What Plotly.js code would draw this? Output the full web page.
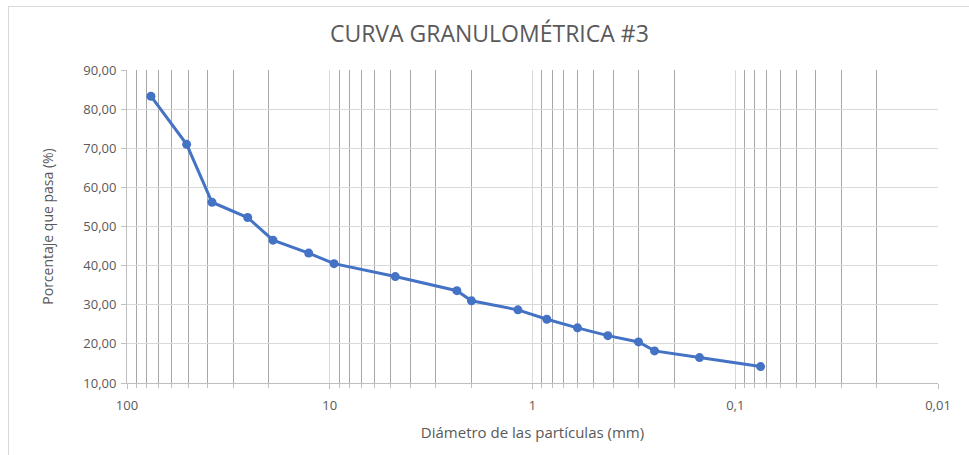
<!DOCTYPE html>
<html>
<head>
<meta charset="utf-8">
<script src="https://cdn.plot.ly/plotly-3.0.1.min.js"></script>
<style>
  html, body { margin: 0; padding: 0; background: #ffffff; }
  #frame { position: absolute; left: 0; top: 0; width: 969px; height: 455px; }
  #border { position: absolute; left: 8px; top: 6px; width: 961px; height: 449px;
            border-top: 1px solid #d9d9d9; border-left: 1px solid #d9d9d9; pointer-events: none; }
  #chart { position: absolute; left: 0; top: 0; width: 969px; height: 455px; }
</style>
</head>
<body>
<div id="frame">
  <div id="chart"></div>
  <div id="border"></div>
</div>
<script>
// Sieve opening (mm) and percent passing
const diametros = [76.2, 50.8, 38.1, 25.4, 19.05, 12.7, 9.525, 4.75, 2.36, 2.0, 1.18, 0.85, 0.6, 0.425, 0.3, 0.25, 0.15, 0.075];
const pasa      = [83.3, 71.0, 56.2, 52.3, 46.5, 43.2, 40.5, 37.2, 33.6, 31.0, 28.7, 26.3, 24.1, 22.1, 20.5, 18.2, 16.5, 14.2];

const titulo = 'CURVA GRANULOMÉTRICA #3';
const tituloX = 'Diámetro de las partículas (mm)';
const tituloY = 'Porcentaje que pasa (%)';

const grayText = '#595959';
const fontFam = '"Open Sans", "Liberation Sans", sans-serif';

const trace = {
  x: diametros,
  y: pasa,
  type: 'scatter',
  mode: 'lines+markers',
  line: { color: '#4472C4', width: 3 },
  marker: { color: '#4472C4', size: 9 },
  hoverinfo: 'x+y'
};

const layout = {
  width: 969,
  height: 455,
  paper_bgcolor: '#ffffff',
  plot_bgcolor: '#ffffff',
  separators: ',.',
  margin: { l: 127, r: 31, t: 70, b: 72 },
  showlegend: false,
  title: {
    text: titulo,
    font: { family: fontFam, size: 23, color: grayText },
    x: 0.505, xanchor: 'center',
    y: 0.925, yanchor: 'middle'
  },
  xaxis: {
    type: 'log',
    range: [2, -2],
    autorange: false,
    dtick: 1,
    showgrid: true,
    gridcolor: '#d9d9d9',
    gridwidth: 1,
    zeroline: false,
    showline: true,
    linecolor: '#bfbfbf',
    ticks: 'outside',
    ticklen: 5,
    tickcolor: '#bfbfbf',
    ticklabelstandoff: 5,
    tickfont: { family: fontFam, size: 13, color: grayText },
    minor: { dtick: 'D1', showgrid: true, gridcolor: '#a6a6a6', gridwidth: 1, ticks: 'outside', ticklen: 4, tickcolor: '#bfbfbf' },
    title: { text: tituloX, font: { family: fontFam, size: 15, color: grayText }, standoff: 14 }
  },
  yaxis: {
    range: [10, 90],
    autorange: false,
    dtick: 10,
    tickformat: '.2f',
    showgrid: true,
    gridcolor: '#d9d9d9',
    gridwidth: 1,
    zeroline: false,
    showline: true,
    linecolor: '#bfbfbf',
    ticks: 'outside',
    ticklen: 5,
    tickcolor: '#bfbfbf',
    ticklabelstandoff: 2,
    tickfont: { family: fontFam, size: 13, color: grayText },
    title: { text: tituloY, font: { family: fontFam, size: 14, color: grayText }, standoff: 26 }
  }
};

Plotly.newPlot('chart', [trace], layout, { displayModeBar: false, staticPlot: true });
</script>
</body>
</html>
